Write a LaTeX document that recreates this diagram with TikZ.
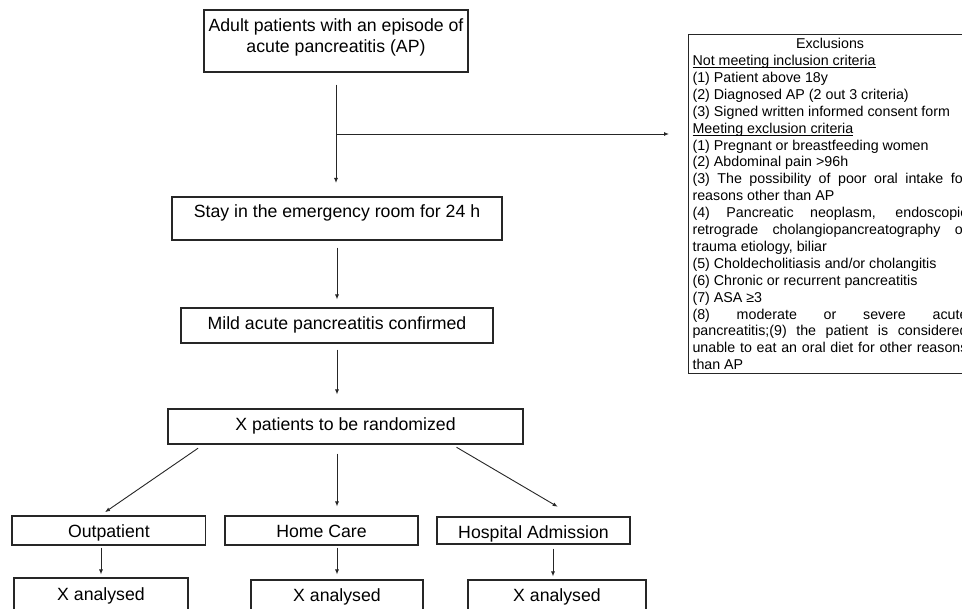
\documentclass[tikz,border=0pt]{standalone}
\usepackage{fontspec}
\setmainfont{Liberation Sans}
\usetikzlibrary{arrows.meta}
\newcommand\myul[1]{\setbox0\hbox{#1}\rlap{\rule[-2.4pt]{\wd0}{0.9pt}}\box0}
\begin{document}
\begin{tikzpicture}[x=1pt,y=-1pt,
  box/.style={draw=black!85, line width=1.1pt, rectangle, inner sep=0pt, font=\fontsize{17.7pt}{21.7pt}\selectfont},
  exbox/.style={draw=black!85, line width=1.1pt, rectangle, inner xsep=4pt, inner ysep=0pt, font=\fontsize{14.25pt}{16.9pt}\selectfont},
  arr/.style={draw=black!85, line width=0.9pt, -{Latex[length=5pt,width=4pt]}},
]
\useasboundingbox (0,0) rectangle (962,609);
\fill[white] (0,0) rectangle (962,609);
\clip (0,0) rectangle (962,609);

% main column
\node[box, minimum width=264pt] (a) at (336,41) {\raisebox{0pt}[43pt][19pt]{\vbox{\baselineskip=21.7pt\lineskiplimit=-100pt
  \hbox to 264pt{\hss Adult patients with an episode of\hss}
  \hbox to 264pt{\hss acute pancreatitis (AP)\hss}}}};
\node[box, minimum width=330pt, text height=20.5pt, text depth=22.5pt] (stay) at (337,218.5) {Stay in the emergency room for 24 h};
\node[box, minimum width=312pt, text height=22pt, text depth=13pt] (mild) at (337,325.5) {Mild acute pancreatitis confirmed};
\node[box, minimum width=355pt, text height=22pt, text depth=13pt] (rand) at (345.5,426.5) {X patients to be randomized};

% arms
\node[box, minimum width=193.7pt, text height=22pt, text depth=7pt] (out) at (108.85,530.5) {Outpatient};
\node[box, minimum width=193pt, text height=22pt, text depth=7pt] (home) at (321.5,530.5) {Home Care};
\node[box, minimum width=193pt, text height=21.3pt, text depth=5.7pt] (hosp) at (533.5,530.5) {Hospital Admission};
\node[box, minimum width=174pt, text height=22pt, text depth=25pt] (xa1) at (101,601.5) {X analysed};
\node[box, minimum width=172pt, text height=21.7pt, text depth=23.3pt] (xa2) at (337,602.5) {X analysed};
\node[box, minimum width=178pt, text height=21.7pt, text depth=23.3pt] (xa3) at (557,602.5) {X analysed};

% exclusions
\node[exbox, anchor=north west] (exb) at (688,34) {\raisebox{0pt}[335.2pt][4pt]{\vbox{\baselineskip=16.9pt\lineskiplimit=-100pt
  \hbox to 275pt{\hss Exclusions\hss}
  \hbox{\myul{Not meeting inclusion criteria}}
  \hbox{(1) Patient above 18y}
  \hbox{(2) Diagnosed AP (2 out 3 criteria)}
  \hbox{(3) Signed written informed consent form}
  \hbox{\myul{Meeting exclusion criteria}}
  \hbox{(1) Pregnant or breastfeeding women}
  \hbox{(2) Abdominal pain >96h}
  \hbox to 275pt{(3) The possibility of poor oral intake for}
  \hbox{reasons other than AP}
  \hbox to 275pt{(4) Pancreatic neoplasm, endoscopic}
  \hbox to 275pt{retrograde cholangiopancreatography or}
  \hbox{trauma etiology, biliar}
  \hbox{(5) Choldecholitiasis and/or cholangitis}
  \hbox{(6) Chronic or recurrent pancreatitis}
  \hbox{(7) ASA ≥3}
  \hbox to 275pt{(8) moderate or severe acute}
  \hbox to 275pt{pancreatitis;(9) the patient is considered}
  \hbox to 275pt{unable to eat an oral diet for other reasons}
  \hbox{than AP}}}};

% connectors
\draw[arr, shorten <=12pt, shorten >=13.5pt] (a.south) -- (a.south |- stay.north);
\coordinate (br) at (a.south |- 0,134);
\draw[arr, shorten >=19pt] (br) -- (br -| exb.west);
\draw[arr, shorten <=7pt, shorten >=8pt] (stay.south) -- (stay.south |- mild.north);
\draw[arr, shorten <=6pt, shorten >=14pt] (mild.south) -- (mild.south |- rand.north);

\draw[arr] ([xshift=-147.5pt,yshift=-3.7pt]rand.south) -- ([xshift=-3.8pt,yshift=3.3pt]out.north);
\draw[arr] ([xshift=-8.5pt,yshift=-9pt]rand.south) -- ([xshift=15.5pt,yshift=9pt]home.north);
\draw[arr] ([xshift=111pt,yshift=-2.7pt]rand.south) -- ([xshift=24.2pt,yshift=9.7pt]hosp.north);

\draw[arr, shorten <=2pt, shorten >=3pt] (xa1.north |- out.south) -- (xa1.north);
\draw[arr, shorten <=2pt, shorten >=5pt] (xa2.north |- home.south) -- (xa2.north);
\draw[arr, shorten <=4pt, shorten >=3pt] ([xshift=-4pt]xa3.north |- hosp.south) -- ([xshift=-4pt]xa3.north);
\end{tikzpicture}
\end{document}
